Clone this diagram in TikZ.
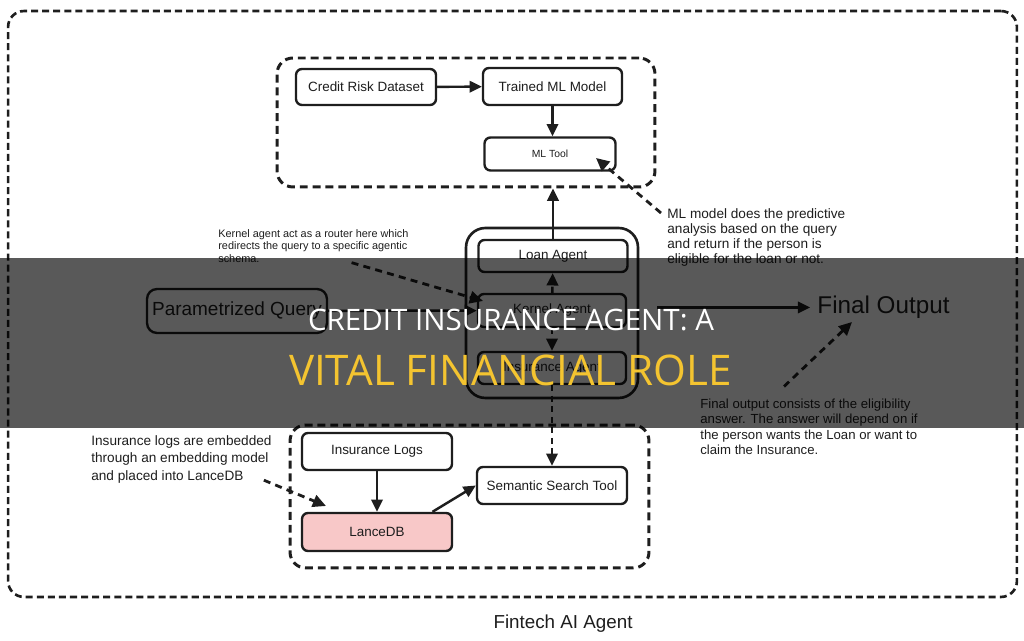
\documentclass[tikz,border=0pt]{standalone}
\usepackage{graphicx}
\usepackage{fontspec}
\setmainfont{Liberation Sans}
\newfontfamily\titlefont{Open Sans}
\usetikzlibrary{arrows.meta,positioning,calc}
\definecolor{cink}{HTML}{1E1E1E}
\definecolor{cpink}{HTML}{F8C8C8}
\definecolor{cyellow}{HTML}{F4C430}

\begin{document}
\begin{tikzpicture}[
    x=0.02cm, y=-0.02cm,
    box/.style={draw=cink, rounded corners=3.4pt, line width=1.35pt, fill=white,
                font=\fontsize{7.65pt}{9pt}\selectfont, text=cink, inner sep=0pt},
    grp/.style={draw=cink, rounded corners=9pt, line width=1.7pt,
                dash pattern=on 4.5pt off 2.8pt},
    note/.style={anchor=north west, align=left, inner sep=0pt, text=cink},
    arr/.style={-{Triangle[length=7pt,width=6.5pt]}, line width=1.4pt, draw=cink},
    darr/.style={arr, dash pattern=on 3.5pt off 2.5pt},
    pointer/.style={-{Triangle[length=7.5pt,width=7pt]}, line width=1.6pt, draw=cink,
                    dash pattern=on 4pt off 3pt},
]
\useasboundingbox (0,0) rectangle (1024,641);

% Frame and dashed groups
\node[grp, line width=1.5pt, dash pattern=on 4pt off 2.3pt, minimum width=20.18cm,
      minimum height=11.72cm] (outer) at (512.5,304) {};
\node[grp, minimum width=7.56cm, minimum height=2.58cm] (topgrp) at (466,122.5) {};
\node[grp, minimum width=7.18cm, minimum height=2.86cm] (botgrp) at (469.5,496.5) {};

% === ML part (top) ===
\node[box, minimum width=2.8cm, minimum height=0.72cm] (cred) at (366,87) {Credit Risk Dataset};
\node[box, minimum width=2.78cm, minimum height=0.74cm] (trained) at (552.5,86.5) {Trained ML Model};
\node[box, minimum width=2.62cm, minimum height=0.66cm,
      font=\fontsize{5.9pt}{7pt}\selectfont] (mltool) at (550,154) {ML Tool};

% === Agents ===
\node[draw=cink, line width=1.5pt, rounded corners=11pt, minimum width=3.44cm,
      minimum height=3.40cm] (agents) at (552,313) {};
\node[box, minimum width=2.98cm, minimum height=0.64cm] (loan) at (553,256) {Loan Agent};
\node[box, minimum width=2.96cm, minimum height=0.66cm] (kernel) at (552,310.5) {Kernel Agent};
\node[box, minimum width=2.96cm, minimum height=0.64cm] (insag) at (552,368) {Insurance Agent};

% Input / output
\node[box, rounded corners=5.7pt, minimum width=3.6cm, minimum height=0.88cm,
      font=\fontsize{10.8pt}{13pt}\selectfont] (query) at (237,311) {Parametrized Query};
\node[anchor=base, inner sep=4pt, font=\fontsize{13.8pt}{16pt}\selectfont, text=cink]
      (final) at (883.5,313.7) {Final Output};

% === Semantic search part (bottom) ===
\node[box, minimum width=3cm, minimum height=0.74cm] (inslogs) at (377,451.5) {Insurance Logs};
\node[box, fill=cpink, minimum width=3cm, minimum height=0.76cm] (lance) at (377,532) {LanceDB};
\node[box, minimum width=3cm, minimum height=0.74cm] (semantic) at (552,485.5) {Semantic Search Tool};

% Notes
\node[note, font=\fontsize{6.2pt}{7.1pt}\selectfont] (knote) at (218,229)
    {Kernel agent act as a router here which\\redirects the query to a specific agentic\\schema.};
\node[note, font=\fontsize{7.75pt}{8.5pt}\selectfont] (mlnote) at (667,208)
    {ML model does the predictive\\analysis based on the query\\and return if the person is\\eligible for the loan or not.};
\node[note, font=\fontsize{7.5pt}{8.8pt}\selectfont] (fnote) at (700,398.5)
    {Final output consists of the eligibility\\answer. The answer will depend on if\\the person wants the Loan or want to\\claim the Insurance.};
\node[note, font=\fontsize{7.75pt}{9.9pt}\selectfont] (insnote) at (91,435)
    {Insurance logs are embedded\\through an embedding model\\and placed into LanceDB};

% pointer tips
\coordinate (mlTip) at (596,158);
\coordinate (kTip) at (483,301);
\coordinate (foTip) at (852,322);
\coordinate (ldbTip) at (326,506);

% Connectors
\draw[arr] (cred) -- (trained);
\draw[arr] (trained.south) -- (trained.south |- mltool.north);
\draw[arr] (loan.north) -- (loan.north |- topgrp.south);
\draw[arr] (query) -- (kernel);
\draw[darr] (kernel) -- (loan);
\draw[darr] (kernel) -- (insag);
\draw[arr] ($(agents.east |- final.west)+(18,0)$) -- (final.west);
\draw[darr] (insag) -- (semantic);
\draw[arr] (inslogs) -- (lance);
\draw[arr] (lance.20) -- (semantic.west);

% Note pointers
\draw[pointer] ($(mlnote.north west)+(-6,5)$) -- (mlTip);
\draw[pointer] ($(knote.south)!0.4!(knote.south east)$) -- (kTip);
\draw[pointer] ($(fnote.north)+(-25,-12)$) -- (foTip);
\draw[pointer] ($(insnote.south east)+(-8,-3)$) -- (ldbTip);

% Caption
\node[anchor=base, font=\fontsize{10.7pt}{13pt}\selectfont, text=cink] (caption) at (563,628) {Fintech AI Agent};

% Banner
\fill[black, opacity=0.65] (0,258) rectangle (1024,428);
\node[text=white, inner sep=0pt] (title) at (511,320.5)
    {\resizebox{8.12cm}{!}{\titlefont CREDIT INSURANCE AGENT: A}};
\node[text=cyellow, inner sep=0pt] (subtitle) at (510.5,370)
    {\resizebox{8.86cm}{!}{\titlefont VITAL FINANCIAL ROLE}};

\end{tikzpicture}
\end{document}
